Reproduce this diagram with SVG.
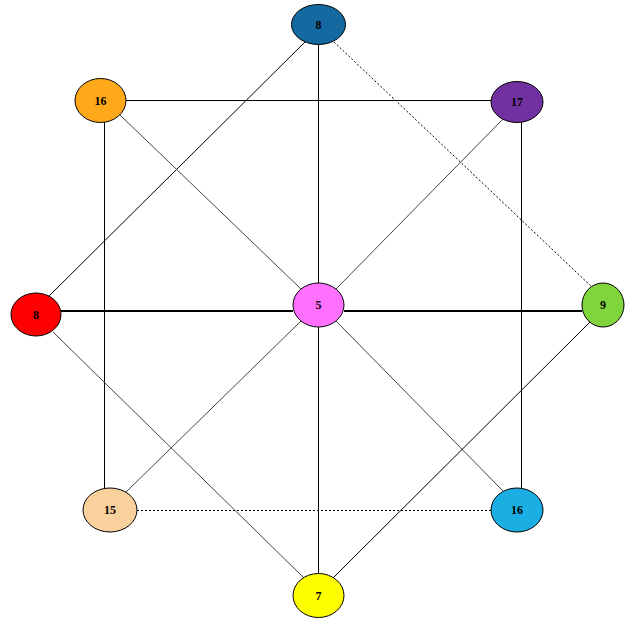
<svg xmlns="http://www.w3.org/2000/svg" width="627" height="620" viewBox="0 0 627 620">
<style>
.n{stroke:#000;stroke-width:1}
.t{font-family:"Liberation Serif",serif;font-weight:bold;font-size:12px;text-anchor:middle;fill:#000}
.e{stroke:#000;stroke-width:1;fill:none}
.g{stroke:#444;stroke-width:1;fill:none}
.b{stroke:#000;stroke-width:2;fill:none}
.d{stroke:#000;stroke-width:1;stroke-dasharray:2,2;fill:none}
</style>
<rect width="627" height="620" fill="#fff"/>
<g id="connectors">
<line class="e" x1="318.5" y1="44.5" x2="318.5" y2="283"/>
<line class="e" x1="318.5" y1="327" x2="318.5" y2="573.5"/>
<line class="e" x1="305" y1="42" x2="48" y2="297"/>
<line class="d" x1="334" y1="42" x2="594" y2="289"/>
<line class="e" x1="126" y1="100.5" x2="491" y2="100.5"/>
<line class="g" x1="120" y1="115" x2="301" y2="289"/>
<line class="e" x1="104.5" y1="122" x2="104.5" y2="489"/>
<line class="g" x1="503" y1="119" x2="336" y2="289"/>
<line class="e" x1="521.5" y1="122" x2="521.5" y2="488"/>
<line class="b" x1="61" y1="311" x2="293" y2="311"/>
<line class="b" x1="344" y1="311" x2="582" y2="311"/>
<line class="g" x1="53" y1="332" x2="304" y2="578"/>
<line class="g" x1="301" y1="321" x2="125" y2="493"/>
<line class="g" x1="336" y1="321" x2="503" y2="491"/>
<line class="e" x1="591" y1="321" x2="333" y2="578"/>
<line class="d" x1="137" y1="510.5" x2="491" y2="510.5"/>
</g>
<g id="n-top-8"><ellipse class="n" cx="318.5" cy="24.5" rx="27" ry="20" fill="#1569a1"/><text class="t" x="318.5" y="28.5">8</text></g>
<g id="n-16-orange"><ellipse class="n" cx="100.5" cy="100.5" rx="25.5" ry="22" fill="#ffa91a"/><text class="t" x="100.5" y="104.5">16</text></g>
<g id="n-17"><ellipse class="n" cx="517" cy="102" rx="26" ry="20.5" fill="#7231a1"/><text class="t" x="517" y="106">17</text></g>
<g id="n-red-8"><ellipse class="n" cx="36" cy="314.5" rx="25" ry="21.5" fill="#ff0000"/><text class="t" x="36" y="318.5">8</text></g>
<g id="n-5"><ellipse class="n" cx="318.5" cy="305" rx="25.5" ry="22" fill="#ff70ff"/><text class="t" x="318.5" y="309">5</text></g>
<g id="n-9"><ellipse class="n" cx="603" cy="305" rx="21" ry="22" fill="#80d43c"/><text class="t" x="603" y="309">9</text></g>
<g id="n-15"><ellipse class="n" cx="110" cy="510" rx="27" ry="22" fill="#fad09c"/><text class="t" x="110" y="514">15</text></g>
<g id="n-16-blue"><ellipse class="n" cx="517" cy="510" rx="26" ry="22" fill="#1aaee2"/><text class="t" x="517" y="514">16</text></g>
<g id="n-7"><ellipse class="n" cx="318.5" cy="595.5" rx="25.5" ry="22" fill="#ffff00"/><text class="t" x="318.5" y="599.5">7</text></g>
</svg>
